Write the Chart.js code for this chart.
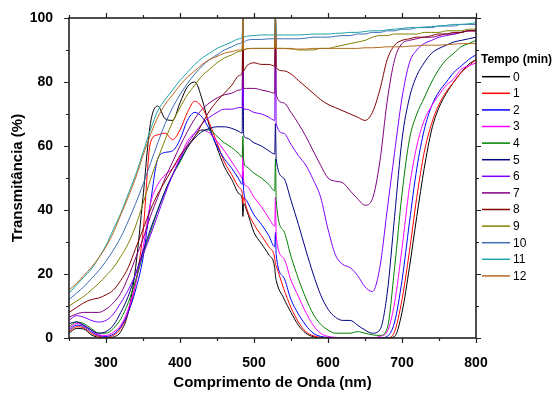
<!DOCTYPE html>
<html>
<head>
<meta charset="utf-8">
<script src="https://cdn.jsdelivr.net/npm/chart.js@4.4.1/dist/chart.umd.min.js"></script>
<style>
  html, body { margin: 0; padding: 0; background: #fff; }
  #wrap { width: 557px; height: 394px; }
</style>
</head>
<body>
<div id="wrap"><canvas id="myChart"></canvas></div>
<script>
// wavelength grid (nm), extra points around the two lamp spikes
var wavelengths = [250, 260, 270, 280, 290, 300, 310, 320, 330, 340, 350, 360, 370, 380, 390, 400, 410, 420, 430, 440, 450, 460, 470, 480,
  484, 485, 486, 490, 500, 510, 520, 528, 529,
  530, 540, 550, 560, 570, 580, 590, 600, 610, 620, 630, 640, 650, 660, 670, 680, 690, 700, 710, 720, 730, 740, 750, 760, 770, 780, 790, 800];

// transmittance (%) for each time
var t0 = [1.5, 3, 2.8, 1, 0.2, 0, 0.3, 2, 8, 22, 44, 67, 72.5, 68.5, 68, 73.5, 78.5, 80, 74.5, 66, 59.5, 53.5, 49.5, 45,
  43.5, 38, 42, 40, 33, 29.5, 26, 22, 19.5,
  18, 12.5, 8, 4, 1.5, 0.4, 0, 0, 0, 0, 0, 0, 0, 0, 0, 0, 0.5, 8, 22, 38, 53, 65, 72, 76.5, 80, 83, 85.5, 87];
var t1 = [2, 3.5, 3.2, 1.5, 0.5, 0.2, 0.8, 3, 8, 17, 33, 61, 63.5, 64, 62, 65, 70.5, 74, 72, 67, 61, 55, 51, 47,
  45.5, 42, 44, 40.5, 35.5, 32, 28.5, 25, 23,
  22.5, 15.5, 9.5, 5, 2, 0.7, 0.2, 0, 0, 0, 0, 0, 0, 0, 0, 0, 2, 12, 27, 44, 58, 67, 73, 77, 80, 83, 85, 87];
var t2 = [2.5, 4, 3.6, 2, 0.8, 0.5, 1.2, 3.5, 8, 15, 25, 42, 56, 58, 58.5, 62, 68, 70.5, 69, 65, 60, 56, 53, 49.5,
  48, 52, 46, 43, 38.5, 35.5, 32, 28.5, 33,
  26, 19, 12, 7.5, 4, 1.5, 0.5, 0.2, 0, 0, 0, 0, 0, 0, 0, 0.5, 5, 18, 36, 53, 65, 72.5, 77, 80, 83, 85, 87, 88.5];
var t3 = [3, 4.5, 4, 2.5, 1, 0.8, 1.8, 4, 9, 17, 28, 42, 48, 51, 53, 56.5, 61.5, 64, 65, 64, 61.5, 58.5, 55, 51.5,
  50, 60, 49, 47.5, 44, 41, 37.5, 35, 44,
  32, 25, 18, 13, 8, 4, 1.5, 0.5, 0.2, 0, 0, 0, 0, 0, 0.5, 2, 11, 28, 47, 60, 68, 72.5, 76, 79, 81, 84, 85, 86];
var t4 = [3.5, 5, 4.5, 3, 1.5, 1.5, 3, 6, 11, 18, 26, 33, 40, 46, 51, 55, 59.5, 63, 65, 65, 63, 61, 59.5, 57.5,
  56.5, 63, 55.5, 53.5, 51.5, 50, 48, 46, 56,
  43, 33.5, 25.5, 18.5, 12.5, 7.5, 4.3, 2.5, 1.5, 1.5, 1.5, 2, 1.5, 1, 0.8, 3, 22, 45, 62, 70, 75, 80, 84, 87, 89, 91, 92, 93];
var t5 = [4.5, 5, 4, 2.5, 1.5, 2, 4, 8, 13, 20, 27, 34, 40, 46, 51, 55.5, 59.5, 62.5, 64.5, 65.5, 66, 66, 65.5, 64.5,
  64, 100, 63.5, 62.5, 61, 60, 58.5, 57.5, 67,
  56, 50, 43, 35.5, 27.5, 20, 13.5, 9, 6.5, 5.5, 5.5, 4, 2.5, 1.5, 2.5, 14, 38, 62, 75, 82, 86, 89, 90.5, 91.5, 92.5, 93, 93.5, 94];
var t6 = [5.5, 7, 6.5, 5.5, 5, 5.5, 7.5, 11, 15, 20, 26, 32, 38.5, 45, 51, 56, 60.5, 64, 67, 69, 70.5, 71.5, 71.5, 72,
  72, 100, 71.5, 71.5, 70.5, 70, 69, 68, 100,
  67, 64, 60.5, 57, 54, 49.5, 44, 34, 26, 23, 22, 19.5, 16, 14.5, 22, 40, 58, 75, 86, 90, 92, 93, 94, 94.5, 95, 95.5, 96, 96];
var t7 = [6.5, 7.5, 8, 8, 8, 9, 11, 14, 19, 25, 31, 38, 44, 50, 55, 60, 64.5, 68.5, 71.5, 73.5, 75, 76, 76.5, 77.5,
  78, 100, 78, 78, 78, 77.5, 77, 76.5, 100,
  76, 73.5, 70.5, 67, 63, 58.5, 54, 50, 49, 48.5, 46, 43.5, 41.5, 43.5, 55, 74, 87, 92, 93, 93.5, 94, 94, 94.5, 95, 95, 95.5, 96, 96];
var t8 = [8, 9.5, 11, 12, 12.5, 13.5, 15, 18, 22, 28, 34, 40, 45, 49, 53, 57, 60, 63, 67, 71, 74, 76.5, 79, 82,
  83, 100, 83.5, 85, 86, 85.5, 85.5, 85, 100,
  84.5, 83.5, 82.5, 80.5, 78.5, 76.5, 74.5, 73, 72, 71, 70, 69, 68, 70.5, 77.5, 87, 91.5, 93, 93.5, 94, 94, 94.5, 95, 95, 95.5, 95.5, 96, 96];
var t9 = [10, 11.5, 13, 15, 17, 19.5, 22, 25.5, 29.5, 35, 42, 49.5, 56, 62, 67.5, 72, 76, 79, 82, 84, 86, 87.5, 88.5, 89.5,
  90, 100, 90, 90.5, 90.5, 90.5, 90.5, 90.5, 100,
  90.5, 90.5, 90.5, 90, 90, 90, 90.5, 90.5, 91, 91.5, 92, 92.5, 93, 94, 94.5, 94.5, 95, 95, 95, 95, 95.5, 95.5, 95.5, 96, 96, 96, 96.5, 96.5];
var t10 = [12, 14, 16, 18.5, 21, 24, 27.5, 31.5, 36.5, 42, 48, 54.5, 61, 67, 72, 76, 79.5, 82.5, 85, 87, 88.5, 90, 91, 92,
  92.5, 100, 92.5, 93, 93.3, 93.3, 93.5, 93.5, 100,
  93.5, 93.5, 93.5, 93.5, 93.7, 94, 94, 94, 94.3, 94.5, 94.5, 95, 95, 95.5, 95.5, 96, 96, 96.5, 96.5, 97, 97, 97, 97.5, 97.5, 97.5, 98, 98, 98];
var t11 = [14, 16.5, 19, 21.5, 25, 29, 34, 39, 45, 51, 58, 65, 71, 74.5, 77.5, 80.5, 83, 85.5, 87.5, 89, 90.5, 91.5, 92.5, 93.5,
  94, 100, 94, 94.3, 94.5, 94.7, 94.7, 94.7, 100,
  94.7, 94.7, 94.7, 94.7, 94.8, 95, 95, 95, 95.2, 95.3, 95.5, 95.5, 95.8, 96, 96, 96.3, 96.5, 96.7, 97, 97, 97.2, 97.3, 97.5, 97.7, 98, 98, 98.2, 98.5];
var t12 = [15, 17, 19.5, 22, 25, 28.5, 33, 38.5, 44, 50, 57, 63.5, 69, 73, 76, 79, 81.5, 83.5, 85.5, 87, 88, 89, 89.5, 90,
  90, 100, 90, 90.3, 90.5, 90.5, 90.5, 90.5, 100,
  90.5, 90.5, 90.3, 90.3, 90.3, 90.5, 90.5, 90.5, 90.5, 90.5, 90.5, 90.5, 90.7, 90.7, 90.8, 91, 91, 91, 91.2, 91.3, 91.5, 91.5, 91.5, 91.7, 91.8, 92, 92, 92];

var series = [t0, t1, t2, t3, t4, t5, t6, t7, t8, t9, t10, t11, t12];
var seriesLabels = ["0", "1", "2", "3", "4", "5", "6", "7", "8", "9", "10", "11", "12"];
var seriesColors = ["#000000", "#ff0000", "#0000ff", "#ff00ff", "#008000", "#000080", "#8000ff",
  "#800080", "#800000", "#808000", "#3d6fb6", "#20a3a8", "#b5681e"];

var xTicks = [250, 300, 350, 400, 450, 500, 550, 600, 650, 700, 750, 800];
var yTicks = [0, 10, 20, 30, 40, 50, 60, 70, 80, 90, 100];

var FONT = "Arial, 'Liberation Sans', sans-serif";

// frame with outward ticks on all four sides
var framePlugin = {
  id: "frame",
  afterDatasetsDraw: function (chart) {
    var c = chart.ctx, a = chart.chartArea;
    var xs = chart.scales.x, ys = chart.scales.y;
    c.save();
    c.strokeStyle = "#222";
    c.lineWidth = 1.6;
    c.strokeRect(a.left, a.top, a.right - a.left, a.bottom - a.top);
    c.lineWidth = 1.2;
    c.beginPath();
    xTicks.forEach(function (v) {
      var px = Math.round(xs.getPixelForValue(v)) + 0.5;
      var len = v % 100 === 0 ? 5 : 3;
      c.moveTo(px, a.bottom); c.lineTo(px, a.bottom + len);
      c.moveTo(px, a.top); c.lineTo(px, a.top - len);
    });
    yTicks.forEach(function (v) {
      var py = Math.round(ys.getPixelForValue(v)) + 0.5;
      var len = v % 20 === 0 ? 5 : 3;
      c.moveTo(a.left, py); c.lineTo(a.left - len, py);
      c.moveTo(a.right, py); c.lineTo(a.right + len, py);
    });
    c.stroke();
    c.restore();
  }
};

// legend on the right, title + line samples
var legendPlugin = {
  id: "sideLegend",
  afterDraw: function (chart) {
    var c = chart.ctx;
    c.save();
    c.fillStyle = "#000";
    c.textBaseline = "middle";
    c.textAlign = "left";
    c.font = "bold 12px " + FONT;
    c.fillText("Tempo (min)", 481, 60);
    c.font = "12px " + FONT;
    chart.data.datasets.forEach(function (ds, i) {
      var y = 76.7 + i * 16.6;
      c.strokeStyle = ds.borderColor;
      c.lineWidth = 1.5;
      c.beginPath();
      c.moveTo(482, y);
      c.lineTo(510, y);
      c.stroke();
      c.fillText(ds.label, 513, y + 0.5);
    });
    c.restore();
  }
};

var ctx = document.getElementById("myChart").getContext("2d");

var myChart = new Chart(ctx, {
  type: "line",
  data: {
    datasets: series.map(function (vals, i) {
      return {
        label: seriesLabels[i],
        data: wavelengths.map(function (w, k) { return { x: w, y: vals[k] }; }),
        borderColor: seriesColors[i],
        borderWidth: 1,
        pointRadius: 0,
        cubicInterpolationMode: "monotone",
        fill: false,
        order: 12 - i,
      };
    }),
  },
  options: {
    responsive: true,
    maintainAspectRatio: false,
    animation: false,
    layout: { padding: { top: 18, right: 81, left: 0, bottom: 0 } },
    plugins: {
      legend: { display: false },
      tooltip: { enabled: false },
    },
    scales: {
      x: {
        type: "linear",
        min: 250,
        max: 800,
        grid: { display: false },
        border: { display: false },
        afterBuildTicks: function (s) { s.ticks = xTicks.map(function (v) { return { value: v }; }); },
        afterFit: function (s) { s.height = 56; },
        ticks: {
          autoSkip: false,
          maxRotation: 0,
          padding: 9,
          color: "#000",
          font: { family: FONT, size: 14, weight: "bold" },
          callback: function (v) { return v % 100 === 0 ? v : ""; },
        },
        title: {
          display: true,
          text: "Comprimento de Onda (nm)",
          color: "#000",
          font: { family: FONT, size: 15, weight: "bold" },
          padding: { top: 0, bottom: 2 },
        },
      },
      y: {
        min: 0,
        max: 100,
        grid: { display: false },
        border: { display: false },
        afterBuildTicks: function (s) { s.ticks = yTicks.map(function (v) { return { value: v }; }); },
        afterFit: function (s) { s.width = 69; },
        ticks: {
          autoSkip: false,
          padding: 8,
          color: "#000",
          font: { family: FONT, size: 14, weight: "bold" },
          callback: function (v) { return v % 20 === 0 ? v : ""; },
        },
        title: {
          display: true,
          text: "Transmitância (%)",
          color: "#000",
          font: { family: FONT, size: 15, weight: "bold" },
          padding: { top: 9, bottom: 0 },
        },
      },
    },
  },
  plugins: [framePlugin, legendPlugin],
});
</script>
</body>
</html>
